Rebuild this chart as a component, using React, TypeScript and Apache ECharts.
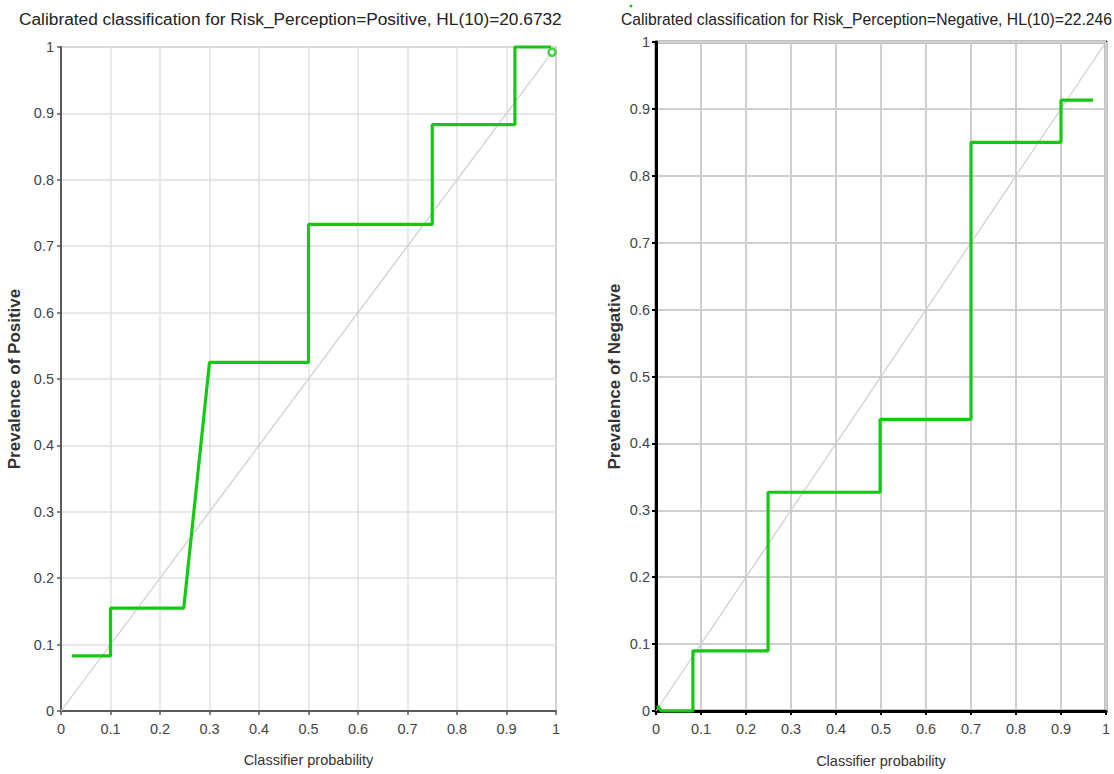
import React, { useEffect, useRef } from "react";
import * as echarts from "echarts";

const posX = [0.022, 0.1, 0.1, 0.248, 0.3, 0.5, 0.5, 0.75, 0.75, 0.917, 0.917, 0.99];
const posY = [0.083, 0.083, 0.155, 0.155, 0.525, 0.525, 0.733, 0.733, 0.883, 0.883, 1.0, 1.0];
const posEnd = [0.992, 0.992];

const negX = [0.003, 0.012, 0.082, 0.082, 0.249, 0.249, 0.498, 0.498, 0.7, 0.7, 0.9, 0.9, 0.971];
const negY = [0.008, 0.0, 0.0, 0.09, 0.09, 0.327, 0.327, 0.436, 0.436, 0.85, 0.85, 0.913, 0.913];

const diagonal = [
  [0, 0],
  [1, 1],
];

const titles = [
  "Calibrated classification for Risk_Perception=Positive, HL(10)=20.6732",
  "Calibrated classification for Risk_Perception=Negative, HL(10)=22.246",
];
const xName = "Classifier probability";
const yNames = ["Prevalence of Positive", "Prevalence of Negative"];

const GREEN = "#14c814";
const FONT = "'Liberation Sans', Arial, sans-serif";

const fmt = (v: number) => String(Math.round(v * 10) / 10);

export default function App() {
  const ref = useRef<HTMLDivElement>(null);
  useEffect(() => {
    if (!ref.current) return;
    const chart = echarts.init(ref.current, null, { renderer: "svg" });
    const zip = (xs: number[], ys: number[]) => xs.map((x, i) => [x, ys[i]]);

    const axisCommon = (dark: boolean) => ({
      type: "value",
      min: 0,
      max: 1,
      interval: 0.1,
      axisLine: { show: true, onZero: false, lineStyle: { color: dark ? "#000" : "#5a5a5a", width: dark ? 3 : 2 } },
      axisTick: { show: true, length: 4, lineStyle: { color: dark ? "#000" : "#5a5a5a", width: dark ? 2 : 1.5 } },
      splitLine: { show: true, lineStyle: { color: dark ? "#cfcfcf" : "#e0e0e0", width: dark ? 2 : 1.5 } },
      axisLabel: { color: "#444", fontFamily: FONT, fontSize: 14.5, formatter: fmt },
    });

    chart.setOption({
      animation: false,
      backgroundColor: "#fff",
      title: [
        {
          text: titles[0],
          left: 14,
          top: 5,
          textStyle: { fontFamily: FONT, fontSize: 17.3, fontWeight: "normal", color: "#222" },
        },
        {
          text: titles[1],
          left: 616,
          top: 6,
          textStyle: { fontFamily: FONT, fontSize: 15.7, fontWeight: "normal", color: "#222" },
        },
      ],
      grid: [
        { left: 61, right: 1114 - 556, top: 47, bottom: 774 - 711, show: true, borderColor: "#777", borderWidth: 1.2 },
        { left: 656, right: 1114 - 1106, top: 42, bottom: 774 - 711, show: true, borderColor: "#000", borderWidth: 2.5 },
      ],
      xAxis: [
        {
          ...axisCommon(false),
          gridIndex: 0,
          name: xName,
          nameLocation: "middle",
          nameGap: 41,
          nameTextStyle: { fontFamily: FONT, fontSize: 14.5, color: "#333" },
          axisLabel: { ...axisCommon(false).axisLabel, margin: 10 },
        },
        {
          ...axisCommon(true),
          gridIndex: 1,
          name: xName,
          nameLocation: "middle",
          nameGap: 42,
          nameTextStyle: { fontFamily: FONT, fontSize: 14.5, color: "#333" },
          axisLabel: { ...axisCommon(true).axisLabel, margin: 10 },
        },
      ],
      yAxis: [
        {
          ...axisCommon(false),
          gridIndex: 0,
          name: yNames[0],
          nameLocation: "middle",
          nameGap: 38,
          nameTextStyle: { fontFamily: FONT, fontSize: 17, fontWeight: "bold", color: "#333" },
          axisLabel: { ...axisCommon(false).axisLabel, margin: 7 },
        },
        {
          ...axisCommon(true),
          gridIndex: 1,
          name: yNames[1],
          nameLocation: "middle",
          nameGap: 33,
          nameTextStyle: { fontFamily: FONT, fontSize: 17, fontWeight: "bold", color: "#333" },
          axisLabel: { ...axisCommon(true).axisLabel, margin: 6 },
        },
      ],
      series: [
        {
          type: "line",
          xAxisIndex: 0,
          yAxisIndex: 0,
          data: diagonal,
          symbol: "none",
          lineStyle: { color: "#cdcdcd", width: 1.2 },
          silent: true,
        },
        {
          type: "line",
          xAxisIndex: 0,
          yAxisIndex: 0,
          data: zip(posX, posY),
          symbol: "none",
          clip: false,
          lineStyle: { color: GREEN, width: 3.2 },
        },
        {
          type: "scatter",
          xAxisIndex: 0,
          yAxisIndex: 0,
          data: [posEnd],
          symbol: "circle",
          symbolSize: 7,
          clip: false,
          z: 5,
          itemStyle: { color: "#e8ffe8", borderColor: GREEN, borderWidth: 2.5 },
        },
        {
          type: "line",
          xAxisIndex: 1,
          yAxisIndex: 1,
          data: diagonal,
          symbol: "none",
          lineStyle: { color: "#cdcdcd", width: 1.2 },
          silent: true,
        },
        {
          type: "line",
          xAxisIndex: 1,
          yAxisIndex: 1,
          data: zip(negX, negY),
          symbol: "none",
          clip: false,
          lineStyle: { color: GREEN, width: 3.2 },
        },
      ],
      graphic: [
        { type: "circle", shape: { cx: 631, cy: 6, r: 1.5 }, style: { fill: GREEN } },
      ],
    });
    return () => chart.dispose();
  }, []);
  return (
    <div
      ref={ref}
      style={{ position: "fixed", left: 0, top: 0, width: 1114, height: 774, background: "#fff" }}
    />
  );
}
